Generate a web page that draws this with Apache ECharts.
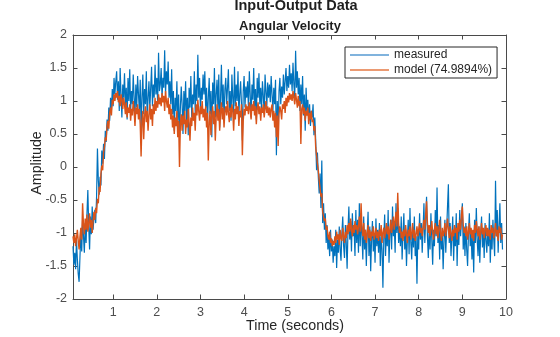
<!DOCTYPE html>
<html>
<head>
<meta charset="utf-8">
<script src="https://cdn.jsdelivr.net/npm/echarts@6/dist/echarts.min.js"></script>
<style>
  html, body { margin: 0; padding: 0; background: #fff; }
  #chart { width: 560px; height: 337px; }
</style>
</head>
<body>
<div id="chart"></div>
<script>
// Sampling of both signals (seconds)
const startTime = 0.08;
const sampleTime = 0.02;

// Measured angular velocity, one row per half second
const measured = [
  -1.20,-1.48,-1.30,-1.55,-1.10,-1.40,-1.62,-1.74,-1.35,-1.02,-1.28,-0.80,-1.05,-1.30,-0.85,-1.15,-0.70,-0.35,-0.90,-1.25,-0.75,-1.02,-0.60,-0.95,-0.78,
  -0.65,-0.85,-0.45,0.28,-0.20,-0.42,-0.15,-0.28,0.25,0.05,0.35,0.12,0.55,0.38,0.72,0.55,0.90,0.70,1.05,0.85,1.18,0.92,1.35,1.10,1.30,
  1.45,1.02,1.30,0.85,1.50,1.10,0.75,1.25,1.05,1.42,0.90,1.20,0.72,1.35,1.00,1.48,0.85,1.15,0.95,1.40,1.05,0.78,1.25,0.90,1.38,
  1.10,0.85,1.32,0.55,1.05,1.40,0.80,1.18,0.95,1.45,0.70,1.05,1.30,0.88,1.20,1.52,0.92,1.25,1.05,1.55,1.10,1.35,0.95,1.73,1.15,
  1.25,1.50,1.05,1.35,1.20,1.77,1.10,1.45,1.25,1.60,1.05,1.30,0.95,1.48,0.80,1.15,0.55,1.05,0.85,1.30,0.70,1.10,0.45,0.90,1.22,
  0.95,0.50,1.15,0.85,1.30,0.70,1.05,0.48,1.20,0.90,1.38,0.75,1.10,0.95,1.45,0.80,1.25,1.00,1.70,1.05,1.35,0.85,1.20,1.02,1.40,
  1.10,1.45,0.90,1.20,0.65,1.05,1.35,0.80,1.15,0.45,1.28,0.95,1.50,0.75,1.10,1.32,0.88,1.40,0.60,1.05,1.55,0.90,1.25,0.70,1.18,
  1.35,0.95,1.20,1.48,0.85,1.15,0.70,1.40,1.05,0.80,1.52,0.92,1.25,1.00,1.45,0.78,1.10,1.30,0.95,0.40,1.15,1.38,0.90,1.22,1.05,
  1.30,0.88,1.45,1.10,0.75,1.25,1.02,1.50,0.90,1.18,0.72,1.35,1.05,1.42,0.95,1.20,0.85,1.30,1.08,0.80,1.40,1.15,0.92,1.28,1.05,
  1.25,0.98,1.38,1.10,0.85,1.20,0.95,1.32,0.18,1.00,0.55,1.15,1.35,0.95,1.22,1.05,1.40,1.10,1.30,1.50,1.15,1.38,1.20,1.55,1.25,
  1.42,1.15,1.58,1.25,1.05,1.76,1.20,1.45,1.10,1.35,0.85,1.25,0.95,1.38,0.78,1.10,0.55,1.20,0.85,1.02,0.70,0.95,0.62,0.85,0.75,
  0.95,0.48,0.75,0.40,-0.05,0.22,-0.15,-0.40,-0.10,-0.62,0.10,-0.85,-0.55,-0.95,-0.70,-1.15,-0.88,-1.25,-1.05,-1.35,-0.95,-1.28,-1.10,-1.45,-1.20,
  -1.35,-0.95,-1.53,-1.10,-1.30,-0.90,-1.25,-1.42,-1.00,-0.75,-1.20,-1.38,-0.88,-1.15,-1.54,-0.95,-0.60,-1.10,-0.82,-1.28,-0.70,-1.05,-0.92,-1.35,-0.65,
  -1.15,-0.80,-1.30,-0.55,-1.20,-0.70,-1.05,-1.40,-0.75,-1.25,-0.95,-1.50,-1.02,-0.68,-1.35,-0.90,-1.58,-1.10,-0.82,-1.28,-1.00,-1.45,-0.78,-1.20,-0.95,
  -1.30,-0.85,-1.50,-1.05,-1.25,-1.83,-1.10,-0.72,-1.35,-0.95,-1.20,-0.65,-1.45,-1.00,-0.80,-1.25,-0.60,-1.05,-0.88,-1.30,-0.55,-1.00,-0.62,-1.15,-0.90,
  -1.20,-0.75,-1.40,-1.00,-0.70,-1.25,-0.95,-1.50,-1.10,-0.80,-1.32,-0.62,-1.15,-1.40,-0.90,-1.22,-0.75,-1.35,-1.05,-1.77,-0.98,-1.25,-0.70,-1.10,-0.85,
  -1.30,-0.95,-0.55,-1.15,-0.80,-0.45,-1.05,-1.38,-0.90,-1.25,-0.70,-1.10,-1.48,-0.95,-1.20,-0.65,-1.05,-0.31,-1.15,-0.88,-1.40,-0.75,-1.25,-1.02,-1.55,
  -1.10,-0.80,-1.30,-0.95,-0.60,-0.26,-1.15,-0.85,-1.35,-1.05,-0.75,-1.42,-0.98,-1.20,-0.70,-1.50,-0.92,-1.18,-0.65,-1.05,-0.80,-0.55,-1.25,-0.90,-1.35,
  -0.85,-1.25,-1.50,-1.00,-0.70,-1.20,-0.95,-1.40,-1.05,-1.60,-0.80,-1.15,-0.62,-1.10,-1.35,-0.90,-1.45,-1.02,-0.75,-1.22,-0.95,-1.38,-0.85,-1.10,-1.30,
  -0.95,-1.20,-0.70,-1.45,-1.00,-1.25,-0.80,-1.10,-1.35,-0.21,-1.05,-0.65,-1.30,-0.90,-0.55,-1.15,-0.85,-1.25
];

// Simulated model output, same sampling
const model = [
  -1.05,-1.15,-1.02,-1.20,-1.08,-0.95,-1.12,-1.25,-1.05,-0.92,-1.10,-0.55,-0.88,-1.02,-0.78,-0.95,-0.72,-0.98,-0.85,-0.70,-0.92,-0.80,-1.00,-0.82,-0.68,
  -0.80,-0.62,-0.70,-0.48,-0.55,-0.30,-0.38,-0.10,0.02,-0.05,0.22,0.30,0.45,0.40,0.62,0.70,0.58,0.82,0.90,0.78,1.02,0.95,1.10,1.00,1.12,
  1.05,1.15,0.98,1.08,0.92,1.10,1.02,0.88,1.05,0.95,0.80,0.98,0.75,0.90,0.82,0.95,0.70,0.88,0.78,1.00,0.85,0.62,0.90,0.80,0.95,
  0.72,0.88,0.65,0.16,0.70,0.85,0.42,0.78,0.92,0.68,0.85,0.55,0.80,0.95,0.72,0.88,0.62,0.95,0.80,1.05,0.85,1.00,0.90,1.10,0.95,
  1.05,0.92,1.12,0.98,1.08,0.85,1.15,1.00,0.90,1.05,0.80,0.95,0.72,0.88,0.60,0.78,0.50,0.75,0.62,0.85,0.45,0.70,0.00,0.65,0.80,
  0.55,0.78,0.65,0.85,0.50,0.72,0.60,0.88,0.68,0.40,0.75,0.62,0.90,0.70,0.82,0.55,0.95,0.78,1.02,0.85,0.70,0.92,0.80,1.00,0.75,
  0.88,0.70,0.92,0.60,0.82,0.10,0.68,0.85,0.48,0.78,0.92,0.65,0.85,0.40,0.75,0.95,0.70,0.88,0.55,0.82,0.98,0.72,0.90,0.60,0.85,
  0.92,0.78,1.00,0.82,0.68,0.90,0.75,0.95,0.85,0.55,0.88,0.72,0.98,0.80,0.92,0.62,0.85,0.75,0.95,0.18,0.70,0.88,0.78,0.95,0.85,
  0.92,0.80,0.98,0.88,0.72,0.95,0.85,1.00,0.78,0.92,0.65,0.88,0.98,0.80,0.92,0.70,0.90,0.82,0.95,0.75,0.88,1.00,0.82,0.92,0.78,
  0.90,0.75,0.88,0.95,0.70,0.85,0.60,0.82,0.45,0.78,0.32,0.80,0.92,0.85,0.72,0.95,0.88,1.00,0.82,1.05,0.92,1.08,0.98,1.12,1.02,
  1.10,1.00,1.15,1.05,0.95,1.12,1.02,0.90,1.08,0.92,1.00,0.35,0.88,0.95,0.80,0.90,0.70,0.85,0.78,0.90,0.65,0.82,0.72,0.85,0.68,
  0.72,0.55,0.62,0.30,0.18,0.05,-0.05,-0.20,-0.32,-0.45,-0.40,-0.68,-0.75,-0.82,-0.78,-0.95,-0.90,-1.05,-1.10,-0.98,-1.15,-1.08,-1.20,-1.12,-1.18,
  -1.05,-1.15,-0.98,-1.10,-1.02,-1.18,-0.95,-1.08,-1.12,-0.92,-1.05,-1.15,-0.98,-1.08,-0.88,-1.02,-0.85,-0.98,-0.78,-0.95,-1.05,-0.88,-1.00,-0.82,-0.95,
  -0.88,-1.02,-0.90,-0.75,-0.98,-0.55,-0.92,-1.05,-0.85,-1.10,-0.95,-1.15,-1.00,-0.88,-1.08,-0.95,-1.12,-0.98,-1.05,-0.90,-1.10,-1.02,-0.92,-1.08,-0.98,
  -1.12,-0.95,-1.05,-0.88,-1.15,-1.00,-0.92,-1.08,-0.98,-0.85,-1.02,-0.90,-1.10,-0.95,-0.80,-1.00,-0.88,-0.75,-0.95,-0.82,-0.68,-0.90,-0.39,-0.85,-1.00,
  -0.92,-1.08,-0.98,-1.12,-0.95,-1.05,-0.88,-1.02,-1.15,-0.95,-1.05,-0.90,-1.10,-1.00,-0.85,-1.08,-0.95,-1.12,-1.02,-0.90,-1.05,-0.95,-0.85,-1.00,-0.92,
  -1.05,-0.90,-0.80,-0.95,-0.72,-0.52,-0.85,-1.00,-0.88,-1.05,-0.92,-0.82,-1.00,-1.10,-0.95,-0.85,-1.02,-0.90,-1.08,-0.95,-0.80,-1.00,-1.12,-0.92,-1.05,
  -0.98,-0.85,-1.05,-0.92,-0.78,-0.95,-1.08,-0.90,-1.00,-1.12,-0.95,-1.05,-0.88,-1.00,-0.92,-1.10,-0.85,-0.98,-0.80,-0.95,-0.72,-0.60,-0.88,-1.00,-0.92,
  -1.05,-0.90,-1.10,-0.98,-0.85,-1.02,-0.92,-1.08,-0.95,-1.12,-0.88,-1.00,-0.82,-0.95,-1.05,-0.90,-1.10,-0.98,-0.85,-1.02,-0.92,-1.08,-0.95,-0.88,-1.05,
  -0.92,-1.05,-0.95,-1.10,-0.88,-1.00,-0.92,-1.08,-0.98,-0.85,-1.05,-0.95,-1.12,-0.90,-1.00,-0.92,-1.10,-1.02
];

// Axis ticks
const xTickValues = [1, 2, 3, 4, 5, 6, 7, 8, 9, 10];
const yMin = -2, yMax = 2, yStep = 0.5;

const seriesNames = ['measured', 'model (74.9894%)'];
const FONT = '"Liberation Sans", Arial, Helvetica, sans-serif';
const AXIS_COLOR = '#4a4a4a';
const LABEL_COLOR = '#4d4d4d';

const toPairs = arr => arr.map((v, i) => [+(startTime + i * sampleTime).toFixed(2), v]);

const chart = echarts.init(document.getElementById('chart'), null, { renderer: 'canvas' });

const tickStyle = { show: true, inside: true, length: 4.5, lineStyle: { color: AXIS_COLOR, width: 1 } };
const lineStyleAxis = { show: true, onZero: false, lineStyle: { color: AXIS_COLOR, width: 1 } };

chart.setOption({
  animation: false,
  backgroundColor: '#ffffff',
  grid: { left: 73, right: 54, top: 35, bottom: 38, containLabel: false },
  legend: {
    show: true,
    orient: 'vertical',
    left: 345,
    top: 47,
    padding: [1, 5, 1, 5],
    itemGap: 1,
    itemWidth: 39,
    itemHeight: 14,
    backgroundColor: '#ffffff',
    borderColor: '#262626',
    borderWidth: 1,
    borderRadius: 0,
    textStyle: { fontFamily: FONT, fontSize: 12, color: '#262626', lineHeight: 14 },
    data: [
      { name: seriesNames[0], icon: 'path://M0,0 L40,0 L40,2 L0,2 Z', itemStyle: { color: '#80b3dd' } },
      { name: seriesNames[1], icon: 'path://M0,0 L40,0 L40,2 L0,2 Z', itemStyle: { color: '#eb9a72' } }
    ]
  },
  graphic: [
    { type: 'text', x: 296, y: 6, style: { text: 'Input-Output Data', font: 'bold 14.5px ' + FONT, fill: '#1f1f1f', align: 'center', verticalAlign: 'middle' } },
    { type: 'text', x: 290, y: 26, style: { text: 'Angular Velocity', font: 'bold 13px ' + FONT, fill: '#1f1f1f', align: 'center', verticalAlign: 'middle' } },
    { type: 'text', x: 37, y: 163, rotation: Math.PI / 2, style: { text: 'Amplitude', font: '14.3px ' + FONT, fill: '#262626', align: 'center', verticalAlign: 'middle' } },
    { type: 'text', x: 295, y: 326, style: { text: 'Time (seconds)', font: '14.3px ' + FONT, fill: '#262626', align: 'center', verticalAlign: 'middle' } }
  ],
  xAxis: [
    {
      type: 'value', position: 'bottom', min: startTime, max: 10,
      axisLine: lineStyleAxis,
      axisTick: Object.assign({}, tickStyle, { customValues: xTickValues }),
      axisLabel: { customValues: xTickValues, color: LABEL_COLOR, fontFamily: FONT, fontSize: 12.5, margin: 7 },
      splitLine: { show: false }
    },
    {
      type: 'value', position: 'top', min: startTime, max: 10,
      axisLine: lineStyleAxis,
      axisTick: Object.assign({}, tickStyle, { customValues: xTickValues }),
      axisLabel: { show: false },
      splitLine: { show: false }
    }
  ],
  yAxis: [
    {
      type: 'value', position: 'left', min: yMin, max: yMax, interval: yStep,
      axisLine: lineStyleAxis,
      axisTick: tickStyle,
      axisLabel: { color: LABEL_COLOR, fontFamily: FONT, fontSize: 12.5, margin: 6 },
      splitLine: { show: false }
    },
    {
      type: 'value', position: 'right', min: yMin, max: yMax, interval: yStep,
      axisLine: lineStyleAxis,
      axisTick: tickStyle,
      axisLabel: { show: false },
      splitLine: { show: false }
    }
  ],
  series: [
    {
      name: seriesNames[0], type: 'line', xAxisIndex: 0, yAxisIndex: 0,
      data: toPairs(measured), showSymbol: false, symbol: 'none',
      lineStyle: { color: '#0072BD', width: 1.2 }, itemStyle: { color: '#0072BD' }
    },
    {
      name: seriesNames[1], type: 'line', xAxisIndex: 0, yAxisIndex: 0,
      data: toPairs(model), showSymbol: false, symbol: 'none',
      lineStyle: { color: '#D95319', width: 1.4 }, itemStyle: { color: '#D95319' }
    }
  ]
});
</script>
</body>
</html>
